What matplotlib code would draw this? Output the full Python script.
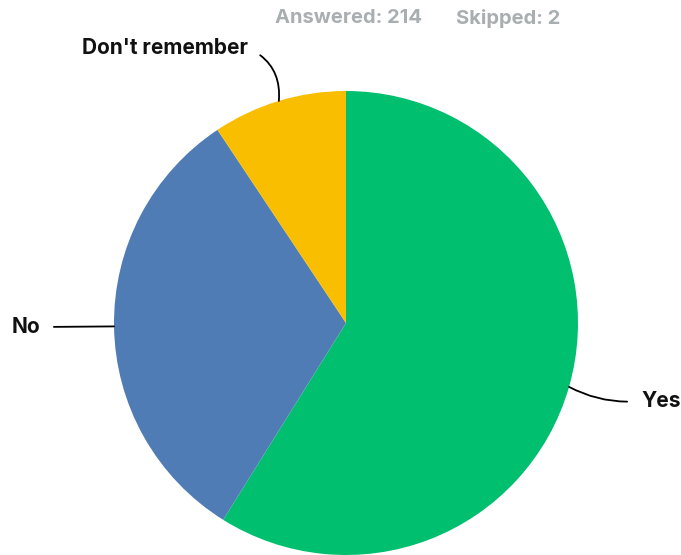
import numpy as np
import matplotlib
matplotlib.use("Agg")
import matplotlib.pyplot as plt

plt.rcParams['font.family'] = ['Inter', 'DejaVu Sans']

# survey answers (214 answered, 2 skipped)
labels = ["Yes", "No", "Don't remember"]
counts = [126, 68, 20]
colors = ["#00BF6F", "#507CB6", "#F9BE00"]
answered = 214
skipped = 2

W, H = 681, 555
fig = plt.figure(figsize=(W / 100, H / 100), dpi=100)
ax = fig.add_axes([0, 0, 1, 1])

cx, cy, r = 346, 232, 232
wedges, _ = ax.pie(counts, colors=colors, startangle=90, counterclock=False,
                   center=(cx, cy), radius=r, frame=True,
                   wedgeprops=dict(linewidth=0))
ax.set_xlim(0, W)
ax.set_ylim(0, H)
ax.set_aspect('equal')
ax.axis('off')

# label placement (text position, alignment, side of text the line leaves, curve)
label_pos = {
    "Yes": ((641, 154), 'left', (0, 0.5), -0.15),
    "No": ((40, 228), 'right', (1, 0.5), 0.0),
    "Don't remember": ((248, 507), 'right', (1, 0.5), -0.35),
}
for w, lab in zip(wedges, labels):
    ang = np.deg2rad((w.theta1 + w.theta2) / 2)
    px, py = cx + r * np.cos(ang), cy + r * np.sin(ang)
    (tx, ty), ha, rel, rad = label_pos[lab]
    ax.annotate(lab, xy=(px, py), xytext=(tx, ty), ha=ha, va='center',
                fontsize=15, fontweight='bold', color='#111111',
                arrowprops=dict(arrowstyle='-', color='black', lw=1.3,
                                relpos=rel, shrinkA=8, shrinkB=0,
                                connectionstyle=f'arc3,rad={rad}'))

fig.text(275 / W, 1 - 18 / H, f"Answered: {answered}", ha='left', va='center',
         fontsize=14.5, fontweight='bold', color='#A9AEB1')
fig.text(456 / W, 1 - 18 / H, f"Skipped: {skipped}", ha='left', va='center',
         fontsize=14.5, fontweight='bold', color='#A9AEB1')

fig.savefig("out.png", dpi=100)
